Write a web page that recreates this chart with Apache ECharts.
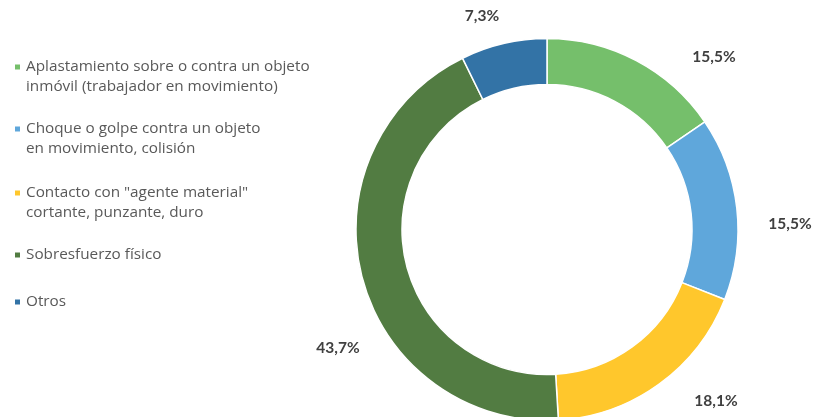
<!DOCTYPE html>
<html>
<head>
<meta charset="utf-8">
<script src="https://cdn.jsdelivr.net/npm/echarts@6/dist/echarts.min.js"></script>
<style>
  html, body { margin: 0; padding: 0; background: #fff; }
  #chart { width: 823px; height: 417px; }
</style>
</head>
<body>
<div id="chart"></div>
<script>
// data
var categories = [
    'Aplastamiento sobre o contra un objeto\ninmóvil (trabajador en movimiento)',
    'Choque o golpe contra un objeto\nen movimiento, colisión',
    'Contacto con "agente material"\ncortante, punzante, duro',
    'Sobresfuerzo físico',
    'Otros'
];
var values = [15.5, 15.5, 18.1, 43.7, 7.3];
var colors = ['#75bf6b', '#5fa7db', '#ffc72c', '#527c42', '#3373a6'];

// layout helpers (label centres, legend rows)
var labelPos = [[714, 57], [790, 224], [716, 401], [338, 348], [482, 16]];
var legendLine1 = [68, 130, 194, 256, 303];

var chart = echarts.init(document.getElementById('chart'));

var legends = categories.map(function (name, i) {
    var twoLines = name.indexOf('\n') >= 0;
    return {
        orient: 'vertical',
        left: 13,
        top: twoLines ? legendLine1[i] - 31 : legendLine1[i] - 11,
        padding: 0,
        itemWidth: 7,
        itemHeight: 7,
        icon: 'rect',
        selectedMode: false,
        data: [name],
        formatter: function (n) {
            // blank first line keeps the marker level with the first text line
            return n.indexOf('\n') >= 0 ? ' \n' + n : n;
        },
        textStyle: {
            fontFamily: 'Open Sans',
            fontSize: 15.3,
            lineHeight: 20,
            color: '#595959'
        }
    };
});

chart.setOption({
    animation: false,
    color: colors,
    legend: legends,
    series: [{
        type: 'pie',
        center: [547, 229.5],
        radius: [145, 191],
        startAngle: 90,
        clockwise: true,
        avoidLabelOverlap: false,
        itemStyle: { borderColor: '#fff', borderWidth: 1.5 },
        label: {
            show: true,
            position: 'outside',
            fontFamily: 'Lato',
            fontWeight: 'bold',
            fontSize: 15.5,
            color: '#404040',
            formatter: function (p) {
                return p.value.toFixed(1).replace('.', ',') + '%';
            }
        },
        labelLine: { show: false },
        labelLayout: function (p) {
            return {
                x: labelPos[p.dataIndex][0],
                y: labelPos[p.dataIndex][1],
                align: 'center',
                verticalAlign: 'middle'
            };
        },
        emphasis: { disabled: true },
        data: categories.map(function (c, i) {
            return { name: c, value: values[i] };
        })
    }]
});
</script>
</body>
</html>
